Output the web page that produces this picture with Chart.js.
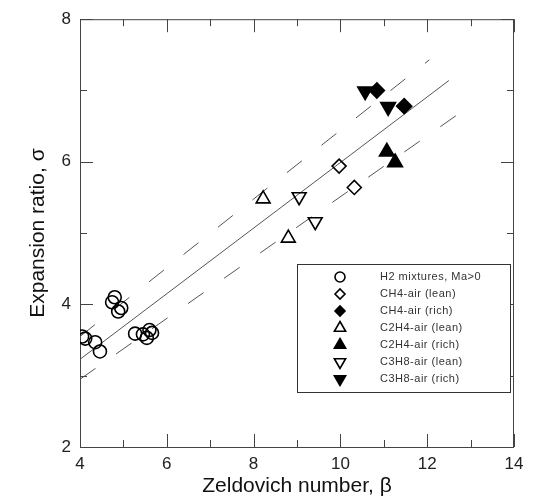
<!DOCTYPE html>
<html>
<head>
<meta charset="utf-8">
<script src="https://cdn.jsdelivr.net/npm/chart.js"></script>
<style>
  html, body { margin: 0; padding: 0; background: #fff; }
  #chart { display: block; }
</style>
</head>
<body>
<canvas id="chart" width="538" height="500"></canvas>
<script>
// measured points, beta vs sigma
const h2X = [4.05, 4.12, 4.35, 4.46, 4.74, 4.8, 4.88, 4.95, 5.27, 5.45, 5.54, 5.6, 5.66];
const h2Y = [3.55, 3.52, 3.47, 3.34, 4.03, 4.1, 3.9, 3.95, 3.59, 3.58, 3.53, 3.64, 3.6];
const ch4LeanX = [9.97, 10.32];
const ch4LeanY = [5.94, 5.64];
const ch4RichX = [10.84, 11.47];
const ch4RichY = [7.0, 6.78];
const c2h4LeanX = [8.22, 8.8];
const c2h4LeanY = [5.48, 4.93];
const c2h4RichX = [11.07, 11.26];
const c2h4RichY = [6.14, 5.99];
const c3h8LeanX = [9.05, 9.42];
const c3h8LeanY = [5.51, 5.16];
const c3h8RichX = [10.57, 11.1];
const c3h8RichY = [6.99, 6.77];

// fit line and its upper / lower bounds
const fitX = [4, 12.5];
const fitY = [3.23, 7.14];
const upperX = [4, 12.05];
const upperY = [3.55, 7.43];
const lowerX = [4, 13];
const lowerY = [2.95, 6.79];

const xTicks = [4, 6, 8, 10, 12, 14];
const yTicks = [2, 4, 6, 8];

const FONT = '"Liberation Sans", Arial, sans-serif';

function pts(xs, ys) {
  return xs.map((v, i) => ({ x: v, y: ys[i] }));
}

function series(label, xs, ys, style, filled, radius, rotation) {
  return {
    label: label,
    data: pts(xs, ys),
    pointStyle: style,
    pointRadius: radius,
    pointRotation: rotation || 0,
    pointBorderWidth: 1.6,
    borderColor: '#000',
    pointBorderColor: '#000',
    pointBackgroundColor: filled ? '#000' : 'rgba(0,0,0,0)',
    backgroundColor: filled ? '#000' : 'rgba(0,0,0,0)',
    showLine: false
  };
}

function fitLine(xs, ys, dash) {
  return {
    type: 'line',
    isFit: true,
    data: pts(xs, ys),
    borderColor: '#555',
    borderWidth: 1,
    borderDash: dash,
    pointRadius: 0,
    fill: false,
    showLine: true
  };
}

const datasets = [
  series('H2 mixtures, Ma>0', h2X, h2Y, 'circle', false, 6.5),
  series('CH4-air (lean)', ch4LeanX, ch4LeanY, 'rectRot', false, 7),
  series('CH4-air (rich)', ch4RichX, ch4RichY, 'rectRot', true, 7.5),
  series('C2H4-air (lean)', c2h4LeanX, c2h4LeanY, 'triangle', false, 8),
  series('C2H4-air (rich)', c2h4RichX, c2h4RichY, 'triangle', true, 8.5),
  series('C3H8-air (lean)', c3h8LeanX, c3h8LeanY, 'triangle', false, 8, 180),
  series('C3H8-air (rich)', c3h8RichX, c3h8RichY, 'triangle', true, 8.5, 180),
  fitLine(fitX, fitY, []),
  fitLine(upperX, upperY, [19, 25]),
  fitLine(lowerX, lowerY, [19, 25])
];

// box around the plot with inward major/minor ticks on all four sides
const frameTicks = {
  id: 'frameTicks',
  beforeDatasetsDraw(chart) {
    const { ctx, chartArea: a, scales: { x, y } } = chart;
    ctx.save();
    ctx.strokeStyle = '#444';
    ctx.lineWidth = 1;
    ctx.strokeRect(a.left + 0.5, a.top + 0.5, a.right - a.left - 1, a.bottom - a.top);
    ctx.beginPath();
    for (let v = x.min; v <= x.max; v++) {
      const len = xTicks.includes(v) ? 13 : 7;
      const px = Math.round(x.getPixelForValue(v)) + 0.5;
      ctx.moveTo(px, a.bottom);
      ctx.lineTo(px, a.bottom - len);
      ctx.moveTo(px, a.top);
      ctx.lineTo(px, a.top + len);
    }
    for (let v = y.min; v <= y.max; v++) {
      const len = yTicks.includes(v) ? 13 : 7;
      const py = Math.round(y.getPixelForValue(v)) + 0.5;
      ctx.moveTo(a.left, py);
      ctx.lineTo(a.left + len, py);
      ctx.moveTo(a.right, py);
      ctx.lineTo(a.right - len, py);
    }
    ctx.stroke();
    ctx.restore();
  }
};

// legend drawn inside the plot, lower right
const boxLegend = {
  id: 'boxLegend',
  afterDraw(chart) {
    const { ctx } = chart;
    const items = chart.data.datasets.filter(d => !d.isFit);
    const left = 297, top = 264, right = 510, bottom = 392;
    ctx.save();
    ctx.fillStyle = '#fff';
    ctx.fillRect(left, top, right - left, bottom - top);
    ctx.strokeStyle = '#333';
    ctx.lineWidth = 1;
    ctx.strokeRect(left + 0.5, top + 0.5, right - left, bottom - top);
    ctx.font = '11px ' + FONT;
    ctx.textBaseline = 'middle';
    ctx.textAlign = 'left';
    if ('letterSpacing' in ctx) ctx.letterSpacing = '0.5px';
    items.forEach((d, i) => {
      const cy = 277 + i * 17;
      const filled = d.pointBackgroundColor === '#000';
      ctx.fillStyle = filled ? '#000' : 'rgba(0,0,0,0)';
      ctx.strokeStyle = '#000';
      ctx.lineWidth = 1.6;
      const r = d.pointStyle === 'triangle' ? 6.5 : 5;
      Chart.helpers.drawPoint(ctx, {
        pointStyle: d.pointStyle,
        rotation: d.pointRotation,
        radius: r,
        borderWidth: 1.6
      }, 340, cy);
      ctx.fillStyle = '#333';
      ctx.fillText(d.label, 380, cy);
    });
    ctx.restore();
  }
};

const ctx = document.getElementById('chart').getContext('2d');
new Chart(ctx, {
  type: 'scatter',
  data: { datasets: datasets },
  options: {
    responsive: false,
    animation: false,
    layout: { padding: { top: 13, right: 24, left: 0, bottom: 0 } },
    plugins: {
      legend: { display: false },
      tooltip: { enabled: false }
    },
    scales: {
      x: {
        type: 'linear',
        min: 4,
        max: 14,
        grid: { display: false, drawTicks: false },
        border: { display: false },
        ticks: {
          stepSize: 2,
          padding: 7,
          color: '#222',
          font: { family: FONT, size: 17 }
        },
        title: {
          display: true,
          text: 'Zeldovich number, β',
          color: '#111',
          font: { family: FONT, size: 21, lineHeight: 1 },
          padding: { top: 0, bottom: 3 }
        },
        afterFit(scale) { scale.height = 53; }
      },
      y: {
        type: 'linear',
        min: 2,
        max: 8,
        grid: { display: false, drawTicks: false },
        border: { display: false },
        ticks: {
          stepSize: 2,
          padding: 9,
          color: '#222',
          font: { family: FONT, size: 17 }
        },
        title: {
          display: true,
          text: 'Expansion ratio, σ',
          color: '#111',
          font: { family: FONT, size: 21, lineHeight: 1 },
          padding: { top: 28, bottom: 0 }
        },
        afterFit(scale) { scale.width = 80; }
      }
    }
  },
  plugins: [frameTicks, boxLegend]
});
</script>
</body>
</html>
